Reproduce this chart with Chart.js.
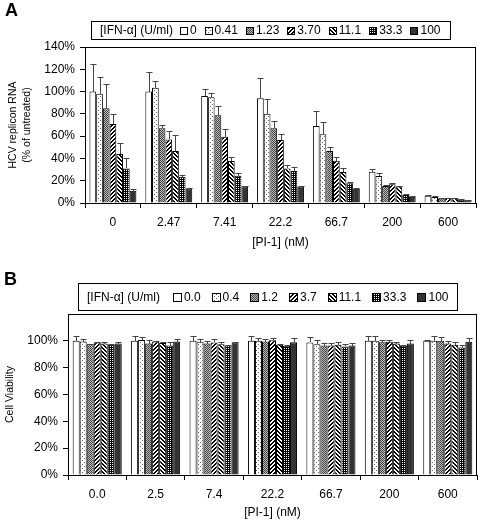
<!DOCTYPE html>
<html>
<head>
<meta charset="utf-8">
<script src="https://cdn.jsdelivr.net/npm/chart.js@4/dist/chart.umd.min.js"></script>
<style>
  html, body { margin: 0; padding: 0; background: #fff; }
  #wrap { position: relative; width: 480px; height: 523px; overflow: hidden; }
  canvas { position: absolute; left: 0; }
  #chartA { top: 0; }
  #chartB { top: 262px; }
  .tag { position: absolute; font: bold 18px Arial, "Liberation Sans", sans-serif; line-height: 20px; }
</style>
</head>
<body>
<div id="wrap">
  <canvas id="chartA" width="480" height="262"></canvas>
  <canvas id="chartB" width="480" height="261"></canvas>
  <div class="tag" style="left:5px;top:0px">A</div>
  <div class="tag" style="left:4px;top:269px">B</div>
</div>
<script>
// panel A: HCV replicon RNA
const dosesA = ["0", "2.47", "7.41", "22.2", "66.7", "200", "600"];
const ifnA = ["0", "0.41", "1.23", "3.70", "11.1", "33.3", "100"];
// one row per IFN-a series, one value per PI-1 dose
const rnaMean = [
  [100, 100, 96, 94, 69, 28, 6.5],
  [98, 103.5, 95, 80, 61.6, 24.2, 5.4],
  [85, 67, 78.7, 67, 46.7, 15.3, 4],
  [71, 57, 59.5, 56.6, 38, 16.8, 4.5],
  [44, 46.7, 37.7, 31, 27.8, 14.7, 4.2],
  [31, 23.6, 24.5, 28.7, 17.7, 7.2, 3],
  [11, 13, 15, 14.7, 12.9, 5.7, 2.4],
];
const rnaErr = [
  [25, 18, 6, 18, 13.5, 2.8, 0.8],
  [15, 6, 4, 13, 11, 2.4, 0.5],
  [22, 3, 8, 6.6, 3.3, 0.8, 0.4],
  [9, 7.6, 6.5, 5, 3.6, 0.8, 0.4],
  [10, 14, 3.3, 3, 3.3, 0.8, 0.3],
  [9, 1.5, 2.7, 4, 1, 0.5, 0.3],
  [2, 0.5, 0.5, 0.5, 0.5, 0.3, 0.3],
];

// panel B: cell viability
const dosesB = ["0.0", "2.5", "7.4", "22.2", "66.7", "200", "600"];
const ifnB = ["0.0", "0.4", "1.2", "3.7", "11.1", "33.3", "100"];
const viabMean = [
  [100, 100, 100, 100, 98.8, 100, 100],
  [99.5, 100.7, 99.3, 100, 97.5, 100, 100],
  [97.5, 98, 98, 99.5, 96.5, 99, 100],
  [98.8, 99.5, 98.8, 100.5, 96.5, 99.3, 98],
  [98, 98.3, 97.5, 97, 97, 98, 97],
  [97, 96.5, 96.5, 96.3, 95.8, 96.3, 95],
  [98, 99.5, 98.8, 99, 96.5, 98, 99.3],
];
const viabErr = [
  [3.7, 3.7, 3.7, 3.7, 4, 3.7, 0.5],
  [1.7, 1.8, 1.7, 2, 3, 3.7, 3.7],
  [0.5, 2.7, 2, 2, 2, 1.5, 3],
  [0.5, 0.5, 2.4, 1.5, 2, 1.5, 2],
  [1, 0.5, 2, 0.5, 2.5, 1.5, 1.8],
  [1, 2.3, 0.5, 0.5, 1.7, 0.5, 1.8],
  [1.3, 2.2, 0.5, 3, 2, 2.7, 3],
];

const FONT = 'Arial, "Liberation Sans", sans-serif';
Chart.defaults.font.family = FONT;
Chart.defaults.font.size = 12;
Chart.defaults.color = "#000";

function tile(w, h, draw) {
  const c = document.createElement("canvas");
  c.width = w;
  c.height = h;
  const g = c.getContext("2d");
  g.fillStyle = "#fff";
  g.fillRect(0, 0, w, h);
  draw(g);
  return g.createPattern(c, "repeat");
}

function px(g, color, pts) {
  g.fillStyle = color;
  pts.forEach(([x, y]) => g.fillRect(x, y, 1, 1));
}

function stripes(dir) {
  return tile(4, 4, (g) => {
    for (let x = 0; x < 4; x++)
      for (let y = 0; y < 4; y++) {
        const k = (((dir > 0 ? x + y : x - y) % 4) + 4) % 4;
        if (k < 2) px(g, "#000", [[x, y]]);
      }
  });
}

const fills = [
  "#ffffff",
  tile(4, 4, (g) => px(g, "#666", [[0, 0], [2, 2]])),
  tile(2, 2, (g) => { g.fillStyle = "#bbb"; g.fillRect(0, 0, 2, 2); px(g, "#444", [[0, 0], [1, 1]]); }),
  stripes(1),
  stripes(-1),
  tile(2, 2, (g) => { g.fillStyle = "#000"; g.fillRect(0, 0, 2, 2); px(g, "#fff", [[0, 0]]); }),
  "#333333",
];

const framePlugin = {
  id: "frame",
  afterDraw(chart) {
    const { ctx, chartArea: a } = chart;
    ctx.save();
    ctx.strokeStyle = "#000";
    ctx.lineWidth = 1;
    ctx.strokeRect(Math.round(a.left) + 0.5, Math.round(a.top) + 0.5,
      Math.round(a.right - a.left) - 1, Math.round(a.bottom - a.top));
    ctx.restore();
  },
};

const errorBars = {
  id: "errorBars",
  afterDatasetsDraw(chart) {
    const ctx = chart.ctx;
    const y = chart.scales.y;
    ctx.save();
    ctx.strokeStyle = "#444";
    ctx.lineWidth = 1;
    chart.data.datasets.forEach((ds, i) => {
      chart.getDatasetMeta(i).data.forEach((bar, j) => {
        const err = ds.errors[j];
        if (!err) return;
        const x = Math.round(bar.x) + 0.5;
        const top = Math.round(y.getPixelForValue(ds.data[j] + err)) + 0.5;
        const half = Math.max(2, Math.round(bar.width * 0.4));
        ctx.beginPath();
        ctx.moveTo(x, Math.round(bar.y));
        ctx.lineTo(x, top);
        ctx.moveTo(x - half, top);
        ctx.lineTo(x + half, top);
        ctx.stroke();
      });
    });
    ctx.restore();
  },
};

const boxLegend = {
  id: "boxLegend",
  afterDraw(chart, args, o) {
    const ctx = chart.ctx;
    ctx.save();
    ctx.font = "12px " + FONT;
    ctx.textBaseline = "middle";
    ctx.lineWidth = 1;
    const cy = o.top + o.height / 2 + 1;
    let x = o.left + o.pad;
    ctx.fillStyle = "#000";
    ctx.fillText(o.title, x, cy);
    x += ctx.measureText(o.title).width + o.titleGap;
    chart.data.datasets.forEach((ds) => {
      const s = o.swatch;
      const sx = Math.round(x);
      const sy = Math.round(cy - s / 2);
      ctx.fillStyle = ds.backgroundColor;
      ctx.fillRect(sx, sy, s, s);
      ctx.strokeStyle = "#000";
      ctx.strokeRect(sx + 0.5, sy + 0.5, s - 1, s - 1);
      x += s + 2;
      ctx.fillStyle = "#000";
      ctx.fillText(ds.label, x, cy);
      x += ctx.measureText(ds.label).width + o.itemGap;
    });
    const right = Math.round(x - o.itemGap + o.pad);
    ctx.strokeStyle = "#000";
    ctx.strokeRect(o.left + 0.5, o.top + 0.5, right - o.left, o.height);
    ctx.restore();
  },
};

function makeChart(id, cfg) {
  const datasets = cfg.series.map((label, i) => ({
    label: label,
    data: cfg.means[i],
    errors: cfg.errs[i],
    backgroundColor: fills[i],
    borderColor: "#000",
    borderWidth: 1,
    categoryPercentage: 0.84,
    barPercentage: 1,
  }));
  return new Chart(document.getElementById(id), {
    type: "bar",
    data: { labels: cfg.doses, datasets: datasets },
    options: {
      responsive: false,
      animation: false,
      layout: { padding: { top: cfg.areaTop, right: cfg.padRight, left: 0, bottom: 0 } },
      plugins: {
        legend: { display: false },
        tooltip: { enabled: false },
        boxLegend: cfg.legend,
      },
      scales: {
        x: {
          grid: { offset: true, drawOnChartArea: false, tickLength: 5, color: "#000" },
          border: { color: "#000" },
          ticks: { padding: 7, font: { size: 12 } },
          title: {
            display: true,
            text: "[PI-1] (nM)",
            font: { size: 12 },
            padding: { top: 0, bottom: cfg.xTitlePad },
          },
          afterFit(s) { s.height = cfg.xHeight; },
        },
        y: {
          min: 0,
          max: cfg.max,
          ticks: {
            stepSize: 20,
            padding: 5,
            font: { size: 12 },
            callback: (v) => (v > cfg.lastLabel ? "" : v + "%"),
          },
          grid: {
            drawOnChartArea: false,
            tickLength: 5,
            color: (c) => (c.tick && c.tick.value > cfg.lastLabel ? "rgba(0,0,0,0)" : "#000"),
          },
          border: { color: "#000" },
          title: {
            display: true,
            text: cfg.yTitle,
            font: { size: 10.5, lineHeight: 1.35 },
            padding: { top: cfg.yTitlePad, bottom: 0 },
          },
          afterFit(s) { s.width = cfg.yWidth; },
        },
      },
    },
    plugins: [errorBars, framePlugin, boxLegend],
  });
}

makeChart("chartA", {
  doses: dosesA, series: ifnA, means: rnaMean, errs: rnaErr,
  max: 140, lastLabel: 140,
  yTitle: ["HCV replicon RNA", "(% of untreated)"],
  areaTop: 47, padRight: 4, yWidth: 85, xHeight: 59, xTitlePad: 12, yTitlePad: 6,
  legend: { title: "[IFN-\u03b1] (U/ml)", left: 91, top: 21, height: 18, pad: 9, titleGap: 7, itemGap: 8, swatch: 8 },
});

makeChart("chartB", {
  doses: dosesB, series: ifnB, means: viabMean, errs: viabErr,
  max: 120, lastLabel: 100,
  yTitle: "Cell Viability",
  areaTop: 52, padRight: 3, yWidth: 68, xHeight: 48, xTitlePad: 3, yTitlePad: 3,
  legend: { title: "[IFN-\u03b1] (U/ml)", left: 78, top: 21, height: 27, pad: 9, titleGap: 13, itemGap: 11, swatch: 9 },
});
</script>
</body>
</html>
